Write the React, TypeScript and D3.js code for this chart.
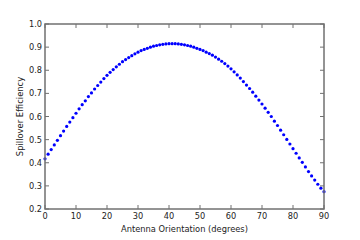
import React from "react";
import * as d3 from "d3";

// spillover efficiency, one value per degree (0..90)
const angles: number[] = d3.range(0, 91);
const efficiency: number[] = [
  0.417, 0.437, 0.457, 0.477, 0.497, 0.517, 0.537, 0.557, 0.576, 0.595,
  0.614, 0.633, 0.651, 0.668, 0.686, 0.702, 0.719, 0.734, 0.749, 0.764,
  0.778, 0.791, 0.803, 0.815, 0.826, 0.837, 0.846, 0.855, 0.863, 0.871,
  0.878, 0.885, 0.890, 0.895, 0.900, 0.904, 0.907, 0.910, 0.912, 0.914,
  0.915, 0.915, 0.915, 0.914, 0.912, 0.910, 0.907, 0.904, 0.900, 0.895,
  0.890, 0.885, 0.878, 0.872, 0.865, 0.857, 0.848, 0.839, 0.829, 0.818,
  0.806, 0.793, 0.780, 0.766, 0.751, 0.736, 0.721, 0.705, 0.688, 0.671,
  0.654, 0.636, 0.618, 0.600, 0.580, 0.561, 0.541, 0.521, 0.501, 0.481,
  0.461, 0.441, 0.421, 0.402, 0.382, 0.362, 0.343, 0.325, 0.307, 0.290,
  0.275,
];
const xTicks = [0, 10, 20, 30, 40, 50, 60, 70, 80, 90];
const yTicks = [0.2, 0.3, 0.4, 0.5, 0.6, 0.7, 0.8, 0.9, 1.0];

const width = 360;
const height = 240;
const margin = { top: 24, right: 36, bottom: 31, left: 45 };
const font = "DejaVu Sans, sans-serif";
const axisColor = "#707070";

export default function App() {
  const x = d3.scaleLinear().domain([0, 90]).range([margin.left, width - margin.right]);
  const y = d3.scaleLinear().domain([0.2, 1.0]).range([height - margin.bottom, margin.top]);
  const [x0, x1] = x.range();
  const [y0, y1] = y.range();

  return (
    <svg
      width={width}
      height={height}
      style={{ position: "fixed", left: 0, top: 0, background: "#fff" }}
    >
      {angles.map((a, i) => (
        <circle key={a} cx={x(a)} cy={y(efficiency[i])} r={1.6} fill="#0000ff" />
      ))}

      {xTicks.map((t) => (
        <g key={"x" + t}>
          <line x1={x(t)} x2={x(t)} y1={y0} y2={y0 - 4} stroke={axisColor} strokeWidth={1} />
          <line x1={x(t)} x2={x(t)} y1={y1} y2={y1 + 4} stroke={axisColor} strokeWidth={1} />
          <text x={x(t)} y={y0 + 10} textAnchor="middle" fontFamily={font} fontSize={8.2} fill="#222">
            {t}
          </text>
        </g>
      ))}

      {yTicks.map((t) => (
        <g key={"y" + t}>
          <line x1={x0} x2={x0 + 4} y1={y(t)} y2={y(t)} stroke={axisColor} strokeWidth={1} />
          <line x1={x1} x2={x1 - 4} y1={y(t)} y2={y(t)} stroke={axisColor} strokeWidth={1} />
          <text x={x0 - 3} y={y(t) + 3} textAnchor="end" fontFamily={font} fontSize={8.2} fill="#222">
            {t.toFixed(1)}
          </text>
        </g>
      ))}

      <rect
        x={x0}
        y={y1}
        width={x1 - x0}
        height={y0 - y1}
        fill="none"
        stroke={axisColor}
        strokeWidth={1.5}
      />

      <text
        x={(x0 + x1) / 2}
        y={232}
        textAnchor="middle"
        fontFamily={font}
        fontSize={8.3}
        fill="#222"
      >
        Antenna Orientation (degrees)
      </text>
      <text
        transform={`translate(23,${(y0 + y1) / 2}) rotate(-90)`}
        textAnchor="middle"
        fontFamily={font}
        fontSize={8.4}
        fill="#222"
      >
        Spillover Efficiency
      </text>
    </svg>
  );
}
